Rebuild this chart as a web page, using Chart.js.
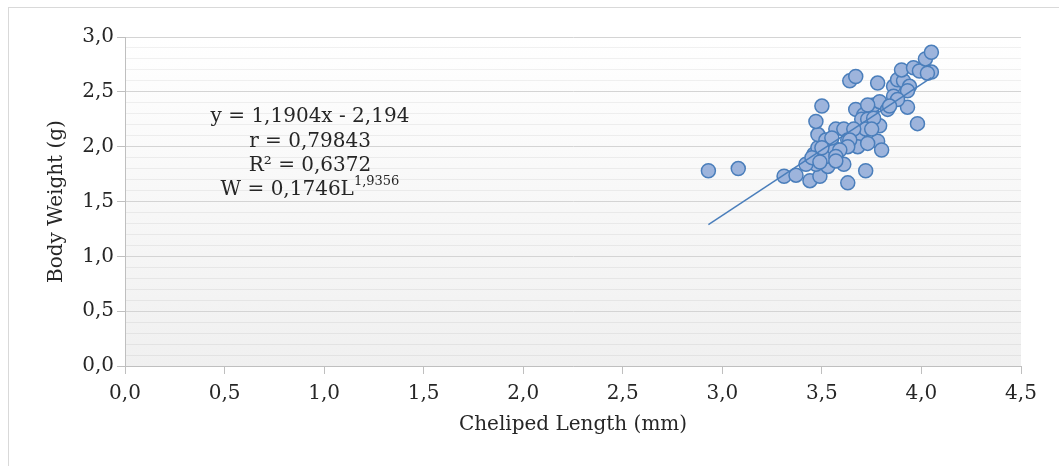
<!DOCTYPE html>
<html>
<head>
<meta charset="utf-8">
<script src="https://cdn.jsdelivr.net/npm/chart.js@4"></script>
<style>
  html, body { margin: 0; padding: 0; background: #fff; overflow: hidden; }
  #wrap { position: relative; width: 1059px; height: 466px; }
  #frame { position: absolute; left: 8px; top: 7px; width: 1070px; height: 480px; border: 1px solid #d9d9d9; box-sizing: border-box; }
  canvas { position: absolute; left: 0; top: 0; }
</style>
</head>
<body>
<div id="wrap">
  <div id="frame"></div>
  <canvas id="scatter" width="1059" height="466"></canvas>
</div>
<script>
// ========== Data ==========
const lengthMm = [2.93, 3.08, 3.31, 3.37, 3.44, 3.49, 3.63, 3.72, 3.61, 3.53,
  3.47, 3.42, 3.46, 3.48, 3.52, 3.56, 3.57, 3.61, 3.63, 3.66,
  3.68, 3.68, 3.48, 3.47, 3.50, 3.67, 3.71, 3.75, 3.76, 3.79,
  3.83, 3.77, 3.79, 3.78, 3.80, 3.93, 3.98, 3.64, 3.67, 3.78,
  3.86, 3.88, 3.91, 3.90, 3.96, 3.99, 4.02, 4.05, 4.05, 4.03,
  3.94, 3.93, 3.86, 3.88, 3.84, 3.73, 3.70, 3.73, 3.76, 3.72,
  3.75, 3.66, 3.64, 3.63, 3.73, 3.59, 3.57, 3.52, 3.55, 3.50,
  3.45, 3.49, 3.57];
const weightG = [1.78, 1.80, 1.73, 1.74, 1.69, 1.73, 1.67, 1.78, 1.84, 1.82,
  1.84, 1.84, 1.93, 1.99, 1.91, 1.99, 2.16, 2.16, 2.06, 2.09,
  2.09, 2.00, 2.11, 2.23, 2.37, 2.34, 2.29, 2.34, 2.38, 2.41,
  2.34, 2.20, 2.19, 2.05, 1.97, 2.36, 2.21, 2.60, 2.64, 2.58,
  2.55, 2.61, 2.60, 2.70, 2.72, 2.69, 2.80, 2.86, 2.68, 2.67,
  2.55, 2.51, 2.46, 2.43, 2.37, 2.38, 2.25, 2.25, 2.26, 2.16,
  2.16, 2.16, 2.06, 2.00, 2.03, 1.97, 1.91, 2.06, 2.08, 1.99,
  1.90, 1.86, 1.87];

// trend line end points
const trendX = [2.93, 4.05];
const trendY = [1.29, 2.63];

const equationLines = ['y = 1,1904x - 2,194', 'r = 0,79843', 'R² = 0,6372'];
const powerBase = 'W = 0,1746L';
const powerExp = '1,9356';

const FONT = '"DejaVu Serif", "Liberation Serif", serif';
const TEXT = '#262626';
const fmt = v => v.toFixed(1).replace('.', ',');
const isMajor = v => Math.abs(Math.round(v * 10) % 5) === 0;

// plot area gradient
const plotBackground = {
  id: 'plotBackground',
  beforeDraw(chart) {
    const { ctx, chartArea: a } = chart;
    const g = ctx.createLinearGradient(0, a.top, 0, a.bottom);
    g.addColorStop(0, '#ffffff');
    g.addColorStop(1, '#f0f0f0');
    ctx.save();
    ctx.fillStyle = g;
    ctx.fillRect(a.left, a.top, a.right - a.left, a.bottom - a.top);
    ctx.restore();
  }
};

// regression text block
const equationText = {
  id: 'equationText',
  afterDraw(chart) {
    const ctx = chart.ctx;
    const cx = 310;
    ctx.save();
    ctx.fillStyle = TEXT;
    ctx.textBaseline = 'middle';
    ctx.textAlign = 'center';
    ctx.font = '20px ' + FONT;
    equationLines.forEach((t, i) => ctx.fillText(t, cx, 117 + i * 24.3));
    // power law line with superscript
    const baseW = ctx.measureText(powerBase).width;
    ctx.font = '13px ' + FONT;
    const expW = ctx.measureText(powerExp).width;
    const startX = cx - (baseW + expW) / 2;
    ctx.textAlign = 'left';
    ctx.font = '20px ' + FONT;
    ctx.fillText(powerBase, startX, 190);
    ctx.font = '13px ' + FONT;
    ctx.fillText(powerExp, startX + baseW, 182);
    ctx.restore();
  }
};

const ctx = document.getElementById('scatter').getContext('2d');
new Chart(ctx, {
  type: 'scatter',
  data: {
    datasets: [{
      type: 'line',
      data: trendX.map((x, i) => ({ x: x, y: trendY[i] })),
      borderColor: '#4a7ebb',
      borderWidth: 1.5,
      pointRadius: 0,
      fill: false,
      order: 0
    }, {
      data: lengthMm.map((x, i) => ({ x: x, y: weightG[i] })),
      backgroundColor: '#9db4dc',
      borderColor: '#4a7ebb',
      borderWidth: 1.5,
      pointRadius: 7,
      order: 1
    }]
  },
  options: {
    responsive: false,
    animation: false,
    layout: { padding: { left: 45, top: 37, right: 38, bottom: 29 } },
    plugins: { legend: { display: false }, tooltip: { enabled: false } },
    scales: {
      x: {
        type: 'linear',
        min: 0, max: 4.5,
        afterFit: s => { s.height = 71; },
        border: { color: '#bfbfbf' },
        grid: { drawOnChartArea: false, tickLength: 8, color: '#bfbfbf' },
        ticks: { stepSize: 0.5, padding: 8, color: TEXT, font: { family: FONT, size: 20 }, callback: v => fmt(v), maxRotation: 0 },
        title: { display: true, text: 'Cheliped Length (mm)', color: TEXT, font: { family: FONT, size: 20 }, padding: 0 }
      },
      y: {
        min: 0, max: 3,
        afterFit: s => { s.width = 80; },
        border: { color: '#bfbfbf' },
        grid: {
          tickLength: 8,
          color: c => isMajor(c.tick.value) ? '#d4d4d4' : 'rgba(0,0,0,0.055)',
          tickColor: c => isMajor(c.tick.value) ? '#bfbfbf' : 'rgba(0,0,0,0)'
        },
        ticks: {
          stepSize: 0.1, autoSkip: false, padding: 3, color: TEXT,
          font: { family: FONT, size: 20 },
          callback: v => isMajor(v) ? fmt(v) : ''
        },
        title: { display: true, text: 'Body Weight (g)', color: TEXT, font: { family: FONT, size: 20 }, padding: 0 }
      }
    }
  },
  plugins: [plotBackground, equationText]
});
</script>
</body>
</html>
